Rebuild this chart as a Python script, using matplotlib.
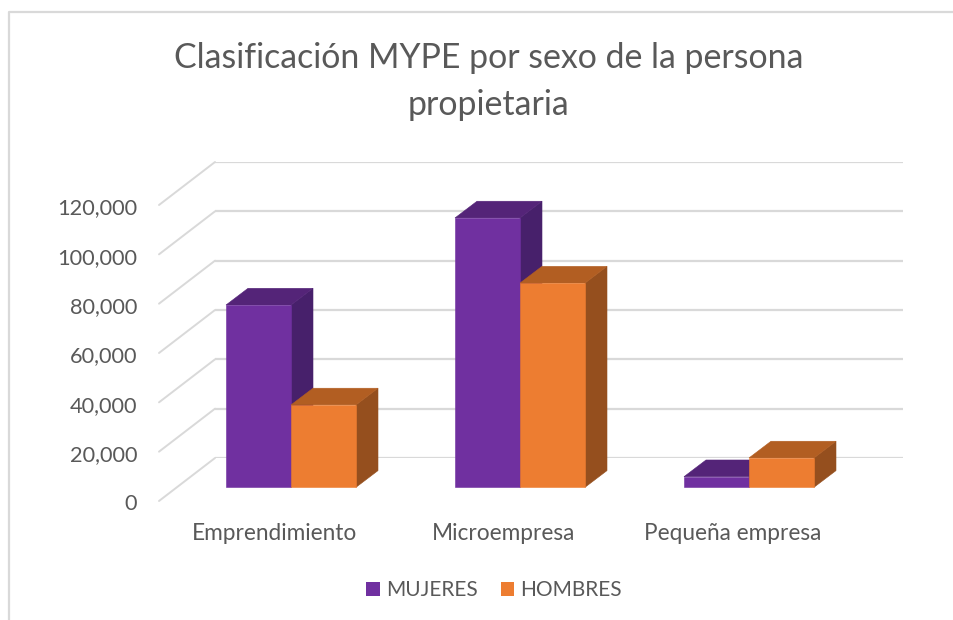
import matplotlib
matplotlib.use("Agg")
import matplotlib.pyplot as plt
from matplotlib.patches import Patch, Polygon
from matplotlib.lines import Line2D
from matplotlib.ticker import FuncFormatter
from matplotlib.transforms import ScaledTranslation

categories = ["Emprendimiento", "Microempresa", "Pequeña empresa"]
mujeres = [73900, 109200, 4300]
hombres = [33400, 82800, 11900]
y_ticks = [0, 20000, 40000, 60000, 80000, 100000, 120000]
series_names = ["MUJERES", "HOMBRES"]

W, H = 954, 620
plt.rcParams["font.family"] = ["Lato", "DejaVu Sans"]
TEXT = "#595959"
GRID = "#d9d9d9"

fig = plt.figure(figsize=(W / 100, H / 100), dpi=100, facecolor="white")
# axes rectangle = back wall of the 3D chart
L, R, T, B = 215, 903, 162, 458
ax = fig.add_axes([L / W, 1 - B / H, (R - L) / W, (B - T) / H])
cat_px = 229.0
first_cat_px = 291.0
ax.set_xlim((L - first_cat_px) / cat_px, (R - first_cat_px) / cat_px)
ax.set_ylim(0, 120000)
px_per_val = (B - T) / 120000
for s in ax.spines.values():
    s.set_visible(False)
ax.patch.set_alpha(0)

def off(x, v, dx_px, dy_px):
    """data point shifted by an oblique projection offset in pixels (dy down)"""
    return (x + dx_px / cat_px, v - dy_px / px_per_val)

# back wall grid and floor/side diagonals
ax.set_yticks(y_ticks)
ax.yaxis.set_major_formatter(FuncFormatter(lambda v, _: f"{int(v):,}"))
ax.grid(axis="y", color=GRID, lw=1.6, zorder=1)
ax.set_axisbelow(True)
x_left = ax.get_xlim()[0]
for v in y_ticks:
    p = off(x_left, v, -56, 43)
    ax.plot([x_left, p[0]], [v, p[1]], color=GRID, lw=1.4, clip_on=False, zorder=1,
            solid_capstyle="round")

# bars
bar_w = 65.0 / cat_px
dep_x, dep_y = 22, -16.7
front_dy = 29.3
styles = [("#7030A0", "#542478", "#47206B"), ("#ED7D31", "#B25E22", "#954F1E")]
z = 3
for i, cat in enumerate(categories):
    for j, vals in enumerate((mujeres, hombres)):
        v = vals[i]
        x0 = i - bar_w if j == 0 else i
        x1 = x0 + bar_w
        front, top, side = styles[j]
        a = off(x0, 0, 0, front_dy)
        b = off(x1, 0, 0, front_dy)
        c = off(x1, v, 0, front_dy)
        d = off(x0, v, 0, front_dy)
        b2 = off(x1, 0, dep_x, front_dy + dep_y)
        c2 = off(x1, v, dep_x, front_dy + dep_y)
        d2 = off(x0, v, dep_x, front_dy + dep_y)
        for pts, col in (([b, b2, c2, c], side), ([d, c, c2, d2], top), ([a, b, c, d], front)):
            ax.add_patch(Polygon(pts, closed=True, facecolor=col, edgecolor=col, lw=0.4,
                                 clip_on=False, zorder=z))
            z += 1

# tick labels, placed at the front of the floor
ax.tick_params(axis="y", length=0, pad=56, labelsize=15.7, labelcolor=TEXT)
ax.set_xticks(range(len(categories)))
ax.set_xticklabels(categories)
ax.tick_params(axis="x", length=0, pad=47, labelsize=16.3, labelcolor=TEXT)
ytrans = ScaledTranslation(0, -44.5 / 100, fig.dpi_scale_trans)
for lab in ax.get_yticklabels():
    lab.set_transform(lab.get_transform() + ytrans)
xtrans = ScaledTranslation(-16 / 100, 0, fig.dpi_scale_trans)
for lab in ax.get_xticklabels():
    lab.set_transform(lab.get_transform() + xtrans)

# title
fig.text(488.5 / W, 1 - 81.5 / H, "Clasificación MYPE por sexo de la persona\npropietaria",
         ha="center", va="center", fontsize=24.4, color=TEXT, linespacing=1.58)

# legend
handles = [Patch(facecolor=styles[0][0], edgecolor="none"), Patch(facecolor=styles[1][0], edgecolor="none")]
fig.legend(handles, series_names, loc="center", bbox_to_anchor=(494 / W, 1 - 590 / H), ncol=2,
           frameon=False, fontsize=15, labelcolor=TEXT, handlelength=0.65, handleheight=0.65,
           handletextpad=0.3, columnspacing=1.1, borderpad=0)

# chart-area border
fig.add_artist(Line2D([9 / W, 9 / W, 1], [0, 1 - 11.5 / H, 1 - 11.5 / H], color=GRID, lw=1.6))

fig.savefig("out.png", dpi=100)
